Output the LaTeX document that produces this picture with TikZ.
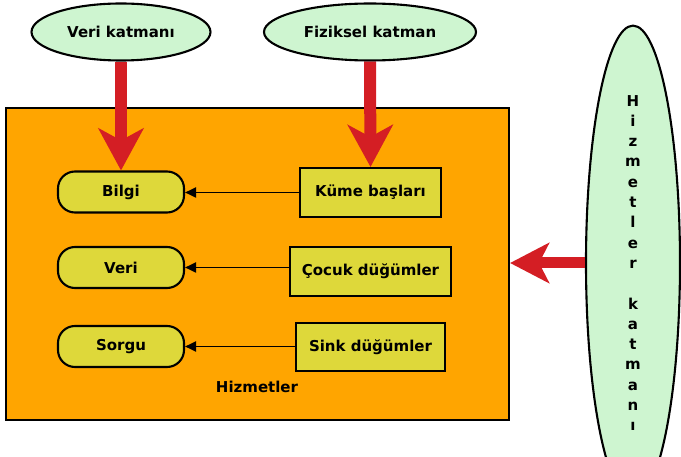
\documentclass[tikz,border=0pt]{standalone}
\usepackage{fontspec}
\setmainfont{DejaVu Sans}
\usetikzlibrary{arrows.meta,shapes.geometric,calc}
\definecolor{orng}{RGB}{255,165,0}
\definecolor{ylw}{RGB}{222,216,58}
\definecolor{lgreen}{RGB}{206,245,208}
\definecolor{redarr}{RGB}{212,30,36}
\tikzset{
  txt/.style={font=\fontsize{15}{17}\selectfont\bfseries},
  layer/.style={ellipse, draw=black, line width=2.1pt, fill=lgreen, inner sep=0pt, txt},
  pill/.style={rectangle, rounded corners=17pt, draw=black, line width=2.1pt, fill=ylw, minimum width=126pt, minimum height=41pt, inner sep=0pt, txt},
  srcbox/.style={rectangle, draw=black, line width=2.1pt, fill=ylw, minimum height=49pt, inner sep=0pt, txt},
  bigarrow/.style={draw=redarr, line width=12pt, -{Stealth[length=42pt,width=45pt,inset=12pt,fill=redarr]}},
  sidearrow/.style={draw=redarr, line width=11pt, -{Stealth[length=39pt,width=40pt,inset=10pt,fill=redarr]}},
  smallarrow/.style={draw=black, line width=1.9pt, -{Triangle[length=11pt,width=10pt]}}
}
\begin{document}
\begin{tikzpicture}[x=1pt,y=-1pt]
\useasboundingbox (0,0) rectangle (681,457);
\clip (0,0) rectangle (681,457);
\node[rectangle, draw=black, line width=2.1pt, fill=orng, minimum width=503pt, minimum height=312pt, inner sep=0pt] (hiz) at (257.5,264) {};
\node[txt] (hizlbl) at (257,387) {Hizmetler};
\node[layer, minimum width=179pt, minimum height=57pt] (vk) at (121,32) {Veri katmanı};
\node[layer, minimum width=212pt, minimum height=57pt] (fk) at (370,32) {Fiziksel katman};
\node[layer, minimum width=94pt, minimum height=396pt, align=center, font=\fontsize{15}{20.3}\selectfont\bfseries] (hk) at (633,263)
  {H\\i\\z\\m\\e\\t\\l\\e\\r\\~\\k\\a\\t\\m\\a\\n\\ı};
\node[pill] (bilgi) at (121,192) {Bilgi};
\node[pill] (veri) at (121,267.5) {Veri};
\node[pill] (sorgu) at (121,346.5) {Sorgu};
\node[srcbox, minimum width=141pt] (kume) at (370.5,192.5) {Küme başları};
\node[srcbox, minimum width=161pt] (cocuk) at (370.5,271.5) {Çocuk düğümler};
\node[srcbox, minimum width=149pt, minimum height=48pt] (sink) at (370.5,347) {Sink düğümler};
\draw[smallarrow] (kume.west) -- (bilgi.east |- kume.west);
\draw[smallarrow] (cocuk.west |- veri.east) -- (veri.east);
\draw[smallarrow] (sink.west |- sorgu.east) -- (sorgu.east);
\draw[bigarrow] (vk.south) -- (bilgi.north);
\draw[bigarrow] (fk.south) -- (kume.north);
\draw[sidearrow] (hk.west) -- (hk.west -| hiz.east);
\end{tikzpicture}
\end{document}
